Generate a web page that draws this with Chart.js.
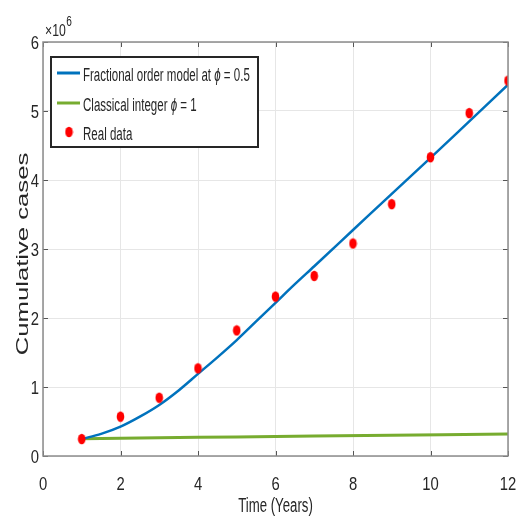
<!DOCTYPE html>
<html>
<head>
<meta charset="utf-8">
<script src="https://cdn.jsdelivr.net/npm/chart.js@4/dist/chart.umd.min.js"></script>
<style>
  html, body { margin: 0; padding: 0; background: #fff; }
</style>
</head>
<body>
<canvas id="chart" width="516" height="523"></canvas>
<script>
// values in millions of cases
const years = [1, 2, 3, 4, 5, 6, 7, 8, 9, 10, 11, 12];
const realData = [0.246, 0.57, 0.845, 1.27, 1.82, 2.31, 2.61, 3.08, 3.65, 4.33, 4.97, 5.44];

const fracTimes = [1, 1.5, 2, 2.5, 3, 3.5, 4, 4.5, 5, 5.5, 6, 6.5, 7, 8, 9, 10, 11, 12];
const fracModel = [0.246, 0.32, 0.425, 0.57, 0.74, 0.95, 1.19, 1.43, 1.68, 1.95, 2.22, 2.49, 2.75, 3.275, 3.80, 4.32, 4.85, 5.38];

const classicalTimes = [1, 4, 7, 12];
const classicalModel = [0.25, 0.27, 0.29, 0.318];

const xTicks = [0, 2, 4, 6, 8, 10, 12];
const yTicks = [0, 1, 2, 3, 4, 5, 6];
const xTitle = 'Time (Years)';
const yTitle = 'Cumulative cases';
const legendLabels = ['Fractional order model at ', 'Classical integer ', 'Real data'];
const legendPhi = [' = 0.5', ' = 1', null];

const BLUE = '#0072BD';
const GREEN = '#77AC30';
const RED = '#FF0000';
const TEXT = '#262626';
const SANS = '"Liberation Sans", Arial, sans-serif';

function pts(xs, ys) {
    return xs.map((x, i) => ({ x: x, y: ys[i] }));
}

// squeezed text, the original figure is narrower than it is tall
function txt(ctx, s, x, y, size, sx, align, style) {
    ctx.save();
    ctx.translate(x, y);
    ctx.scale(sx, 1);
    ctx.font = (style ? style + ' ' : '') + size + 'px ' + SANS;
    ctx.textAlign = align || 'left';
    ctx.fillText(s, 0, 0);
    const w = ctx.measureText(s).width * sx;
    ctx.restore();
    return w;
}

// oval marker like the stretched MATLAB dots
const dot = document.createElement('canvas');
dot.width = 9; dot.height = 12;
(function () {
    const c = dot.getContext('2d');
    c.fillStyle = RED;
    c.beginPath();
    c.ellipse(4.5, 6, 3.8, 5.2, 0, 0, Math.PI * 2);
    c.fill();
})();

const decorations = {
    id: 'decorations',
    afterDraw(chart) {
        const ctx = chart.ctx;
        const a = chart.chartArea;
        const xs = chart.scales.x;
        const ys = chart.scales.y;
        ctx.save();

        // inward tick marks
        ctx.strokeStyle = '#555';
        ctx.lineWidth = 1;
        ctx.beginPath();
        xTicks.forEach(v => {
            const px = Math.round(xs.getPixelForValue(v)) + 0.5;
            ctx.moveTo(px, a.bottom); ctx.lineTo(px, a.bottom - 5);
            ctx.moveTo(px, a.top); ctx.lineTo(px, a.top + 5);
        });
        yTicks.forEach(v => {
            const py = Math.round(ys.getPixelForValue(v)) + 0.5;
            ctx.moveTo(a.left, py); ctx.lineTo(a.left + 5, py);
            ctx.moveTo(a.right, py); ctx.lineTo(a.right - 5, py);
        });
        ctx.stroke();

        // axes box
        ctx.strokeStyle = '#8c8c8c';
        ctx.lineWidth = 1.5;
        ctx.strokeRect(a.left, a.top, a.right - a.left, a.bottom - a.top);

        // tick labels
        ctx.fillStyle = TEXT;
        ctx.textBaseline = 'alphabetic';
        xTicks.forEach(v => {
            txt(ctx, String(v), xs.getPixelForValue(v), a.bottom + 34, 19, 0.78, 'center');
        });
        yTicks.forEach(v => {
            txt(ctx, String(v), a.left - 4, ys.getPixelForValue(v) + 7, 19, 0.78, 'right');
        });

        // axis titles
        txt(ctx, xTitle, (a.left + a.right) / 2, a.bottom + 56, 20, 0.66, 'center');
        ctx.save();
        ctx.translate(28, 254);
        ctx.rotate(-Math.PI / 2);
        txt(ctx, yTitle, 0, 0, 17, 1.51, 'center');
        ctx.restore();

        // x10^6
        const w10 = txt(ctx, '\u00d710', a.left + 2, a.top - 6, 17, 0.72, 'left');
        txt(ctx, '6', a.left + 2 + w10 + 0.5, a.top - 16, 14, 0.72, 'left');

        // legend
        const lx = 51, ly = 57, lw = 207, lh = 90;
        ctx.fillStyle = '#fff';
        ctx.fillRect(lx, ly, lw, lh);
        ctx.strokeStyle = '#262626';
        ctx.lineWidth = 2;
        ctx.strokeRect(lx, ly, lw, lh);

        const sets = chart.data.datasets;
        const rowY = [ly + 16, ly + 46, ly + 75];
        legendLabels.forEach((label, i) => {
            const y = rowY[i];
            const ds = sets[i];
            if (ds.showLine) {
                ctx.strokeStyle = ds.borderColor;
                ctx.lineWidth = 3;
                ctx.beginPath();
                ctx.moveTo(lx + 6, y); ctx.lineTo(lx + 29, y);
                ctx.stroke();
            } else {
                ctx.drawImage(dot, lx + 13.5, y - 6);
            }
            ctx.fillStyle = TEXT;
            let tx = lx + 32;
            tx += txt(ctx, label, tx, y + 8, 18, 0.64, 'left');
            if (legendPhi[i] !== null) {
                tx += txt(ctx, '\u03d5', tx, y + 8, 18, 0.64, 'left', 'italic');
                txt(ctx, legendPhi[i], tx, y + 8, 18, 0.64, 'left');
            }
        });
        ctx.restore();
    }
};

new Chart(document.getElementById('chart'), {
    type: 'scatter',
    data: {
        datasets: [
            {
                label: legendLabels[0] + '\u03d5' + legendPhi[0],
                data: pts(fracTimes, fracModel),
                showLine: true,
                borderColor: BLUE,
                borderWidth: 2.5,
                pointRadius: 0,
                cubicInterpolationMode: 'monotone',
                order: 2
            },
            {
                label: legendLabels[1] + '\u03d5' + legendPhi[1],
                data: pts(classicalTimes, classicalModel),
                showLine: true,
                borderColor: GREEN,
                borderWidth: 3,
                pointRadius: 0,
                cubicInterpolationMode: 'monotone',
                order: 3
            },
            {
                label: legendLabels[2],
                data: pts(years, realData),
                showLine: false,
                pointStyle: dot,
                pointRadius: 5,
                order: 1
            }
        ]
    },
    options: {
        responsive: false,
        animation: false,
        devicePixelRatio: 1,
        layout: { padding: { top: 42, right: 8, left: 0, bottom: 0 } },
        plugins: {
            legend: { display: false },
            tooltip: { enabled: false }
        },
        scales: {
            x: {
                type: 'linear',
                min: 0,
                max: 12,
                afterBuildTicks: s => { s.ticks = xTicks.map(v => ({ value: v })); },
                afterFit: s => { s.height = 67; },
                grid: { color: '#e6e6e6', drawTicks: false },
                border: { display: false },
                ticks: { display: false }
            },
            y: {
                type: 'linear',
                min: 0,
                max: 6,
                afterBuildTicks: s => { s.ticks = yTicks.map(v => ({ value: v })); },
                afterFit: s => { s.width = 43; },
                grid: { color: '#e6e6e6', drawTicks: false },
                border: { display: false },
                ticks: { display: false }
            }
        }
    },
    plugins: [decorations]
});
</script>
</body>
</html>
